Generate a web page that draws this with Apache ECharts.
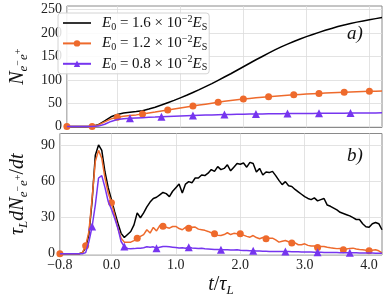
<!DOCTYPE html>
<html><head><meta charset="utf-8">
<script src="https://cdn.jsdelivr.net/npm/echarts@6/dist/echarts.min.js"></script>
<style>html,body{margin:0;padding:0;background:#fff}#c{width:388px;height:299px}</style>
</head><body><div id="c"></div>
<script>
// ---------- data ----------
const seriesNames = ['E16', 'E12', 'E08'];
const fieldValues = ['1.6', '1.2', '0.8'];
const xTicks = [-0.8, 0, 1, 2, 3, 4];
const yTicksTop = [0, 50, 100, 150, 200, 250];
const yTicksRate = [0, 30, 60, 90];

// cumulative pair number (panel a)
const tTop = [-0.8,-0.7,-0.6,-0.5,-0.4,-0.3,-0.2,-0.1,0,0.1,
  0.2,0.3,0.4,0.5,0.6,0.7,0.8,0.9,1,1.1,
  1.2,1.3,1.4,1.5,1.6,1.7,1.8,1.9,2,2.1,
  2.2,2.3,2.4,2.5,2.6,2.7,2.8,2.9,3,3.1,
  3.2,3.3,3.4,3.5,3.6,3.7,3.8,3.9,4,4.1,4.2];
const nBlack = [0,0,0,0,0.5,4,12,21,26,29,
  30.5,32,34,37.5,41.5,46,51,56,61.5,67,
  73,79,85.5,92,99,106,113,120.5,128,135.5,
  143,150,157,164,170.5,176.5,182,187.5,192.5,197,
  201.5,206,210,214,217.5,220.5,223.5,226,228.5,231,233.5];
const nOrange = [0,0,0,0,0.3,3.5,10,16.5,20,22,
  23.5,25,27,29,31,33.2,35.4,37.6,39.8,42,
  44,46,48,50,52,54,55.8,57.5,59,60.3,
  61.6,62.8,64,65,66,67,68,68.8,69.6,70.3,
  71,71.6,72.2,72.8,73.4,74,74.5,75,75.5,75.8,76];
const nPurple = [0,0,0,0,0,1,5,11,15,16.8,
  17.6,18.3,19,19.7,20.3,21,21.6,22.2,22.8,23.3,
  23.8,24.2,24.6,25,25.3,25.6,25.9,26.2,26.5,26.7,
  26.9,27.1,27.3,27.5,27.6,27.8,27.9,28,28.1,28.2,
  28.3,28.4,28.5,28.6,28.7,28.8,28.9,29,29.1,29.2,29.3];

// production rate (panel b)
const tRate = [-0.8,-0.75,-0.7,-0.65,-0.6,-0.55,-0.5,-0.45,-0.4,-0.35,
  -0.3,-0.25,-0.2,-0.15,-0.1,-0.05,0,0.05,0.1,0.15,
  0.2,0.25,0.3,0.35,0.4,0.45,0.5,0.55,0.6,0.65,
  0.7,0.75,0.8,0.85,0.9,0.95,1,1.05,1.1,1.15,
  1.2,1.25,1.3,1.35,1.4,1.45,1.5,1.55,1.6,1.65,
  1.7,1.75,1.8,1.85,1.9,1.95,2,2.05,2.1,2.15,
  2.2,2.25,2.3,2.35,2.4,2.45,2.5,2.55,2.6,2.65,
  2.7,2.75,2.8,2.85,2.9,2.95,3,3.05,3.1,3.15,
  3.2,3.25,3.3,3.35,3.4,3.45,3.5,3.55,3.6,3.65,
  3.7,3.75,3.8,3.85,3.9,3.95,4,4.05,4.1,4.15,4.2];
const rBlack = [0,0,0,0,0,0,0,1,5,16,
  44,82,90.5,86,68,55,45,35,25.5,17,
  13.5,16,18.5,24,34,30,34,39,43,46,
  47,49,51,50,47.5,52,55,58,50.5,58,
  60,59,63,63,65.5,65,67,70,68.5,72.5,
  70,71,74,69,72,75,74.5,75.5,72,76,
  75,68,71,65.5,68,67.5,68.5,65,61,57.5,
  60,56.5,56,53.5,51.5,49.5,47.5,46,45,46.5,
  44,45,46,40.5,39.5,38,36.5,34.5,33.5,32.5,
  31.5,30,28.5,28.5,25,22.5,22,25,26,25,20];
const rOrange = [0,0,0,0,0,0,0,1,6.6,18.5,
  46,77,86,79.5,63,50.5,42.5,32,21.5,13,
  9.7,9.5,9.7,11,13,14.5,16,20,17.2,21.9,
  19,23.5,23,22,21.3,22.7,22.7,21,20,22,
  21.3,22,22.2,20.5,20,19.5,18.6,17.5,16.6,15.5,
  15.2,16,17.5,16,17,16.6,16.6,15.5,14.5,13.8,
  15.2,13.5,12.5,13.5,12.5,13,13,11.5,9.7,10.5,
  11.1,10,8.9,9,7.5,7.5,8.3,7,6.5,6.5,
  5.3,6,6.1,5.5,5,4.7,4.3,4.5,3.3,4,
  4.5,4.7,4,3.5,3.3,3,2.5,3,3.3,2.5,0.8];
const rPurple = [0,0,0,0,0,0,0,0,1,10,
  22.7,40.7,63,65,55,43.5,37,29.5,21.3,10.2,
  6,4.5,4.2,4.3,4.6,4.7,5,5.8,5.5,5.8,
  4.7,5.5,6.1,6,5.8,5.5,5.2,4.8,5,4.6,
  5.5,4.8,4.7,4.5,4.6,4.2,4,3.8,3.6,3.5,
  3.3,3.3,3.4,3.2,3.1,3.3,3,2.8,2.7,2.6,
  2.5,2.4,2.3,2.2,2.1,2,2,2,2,1.9,
  2,1.9,1.8,1.7,1.6,1.5,1.5,1.4,1.4,1.3,
  1.2,1.2,1.1,1.1,1,1,1,0.9,0.9,0.9,
  0.8,0.8,0.8,0.7,0.7,0.6,0.6,0.6,0.5,0.5,0.5];

// marker positions (times carrying a marker)
const orangeMarkT = [-0.8,-0.4,0,0.4,0.8,1.2,1.6,2,2.4,2.8,3.2,3.6,4];
const purpleMarkTopT = [0.2,0.7,1.2,1.7,2.2,2.7,3.2,3.7];
const purpleMarkRateT = [-0.3,0.2,0.7,1.2,1.7,2.2,2.7,3.2,3.7];

// ---------- build ----------
const SERIF = '"Liberation Serif", "DejaVu Serif", serif';
const COL = ['#000000', '#ee6a2c', '#7635ef'];
function pts(ts, ys, marks) {
  return ts.map((t, i) => {
    const isMark = marks && marks.some(m => Math.abs(m - t) < 1e-6);
    return marks ? { value: [t, ys[i]], symbol: isMark ? undefined : 'none' } : [t, ys[i]];
  });
}
function line(name, idx, data, sym, size) {
  return {
    type: 'line', name: name, xAxisIndex: idx, yAxisIndex: idx, data: data,
    symbol: sym || 'none', symbolSize: size || 7, showAllSymbol: true, clip: true,
    lineStyle: { color: COL[seriesNames.indexOf(name)], width: 1.5 },
    itemStyle: { color: COL[seriesNames.indexOf(name)] },
    emphasis: { disabled: true }, animation: false, z: 2 + seriesNames.indexOf(name)
  };
}
function fmtX(v) { return (v < 0 ? '\u2212' : '') + Math.abs(v).toFixed(1); }
const gridLine = { show: true, lineStyle: { color: '#dcdcdc', width: 0.8 } };
const tickLbl = { fontFamily: SERIF, fontSize: 14, color: '#222' };
const nameRich = {
  m: { fontFamily: SERIF, fontStyle: 'italic', fontSize: 20, lineHeight: 24, color: '#111' },
  n: { fontFamily: SERIF, fontSize: 20, lineHeight: 24, color: '#111' },
  s: { fontFamily: SERIF, fontStyle: 'italic', fontSize: 13, lineHeight: 10, verticalAlign: 'bottom', color: '#111' },
  p: { fontFamily: SERIF, fontSize: 10, lineHeight: 24, color: '#111' }
};

const option = {
  animation: false,
  backgroundColor: '#fff',
  grid: [
    { left: 52, right: 6, top: 6, height: 121.5, show: true, borderColor: '#8a8a8a', borderWidth: 1, backgroundColor: 'transparent' },
    { left: 52, right: 6, top: 133.5, height: 121.5, show: true, borderColor: '#8a8a8a', borderWidth: 1, backgroundColor: 'transparent' }
  ],
  xAxis: [
    { type: 'value', gridIndex: 0, min: -0.8, max: 4.2,
      axisLine: { show: false }, axisTick: { show: false, customValues: xTicks },
      axisLabel: { show: false, customValues: xTicks }, splitLine: gridLine },
    { type: 'value', gridIndex: 1, min: -0.8, max: 4.2,
      axisLine: { show: false }, axisTick: { show: false, customValues: xTicks },
      axisLabel: Object.assign({ customValues: xTicks, formatter: fmtX, margin: 3 }, tickLbl),
      splitLine: gridLine,
      name: '{m|t}{n|/}{m|\u03c4}{s|L}', nameLocation: 'middle', nameGap: 18,
      nameTextStyle: { rich: nameRich } }
  ],
  yAxis: [
    { type: 'value', gridIndex: 0, min: -2, max: 258,
      axisLine: { show: false }, axisTick: { show: false, customValues: yTicksTop },
      axisLabel: Object.assign({ customValues: yTicksTop, margin: 5 }, tickLbl), splitLine: gridLine,
      name: '{m|N}{s|e}{p|\u2212}{s|e}{p|+}', nameLocation: 'middle', nameRotate: 90, nameGap: 30,
      nameTextStyle: { rich: nameRich } },
    { type: 'value', gridIndex: 1, min: -1, max: 100,
      axisLine: { show: false }, axisTick: { show: false, customValues: yTicksRate },
      axisLabel: Object.assign({ customValues: yTicksRate, margin: 5 }, tickLbl), splitLine: gridLine,
      name: '{m|\u03c4}{s|L}{m|dN}{s|e}{p|\u2212}{s|e}{p|+}{n|/}{m|dt}', nameLocation: 'middle', nameRotate: 90, nameGap: 27,
      nameTextStyle: { rich: nameRich } }
  ],
  legend: {
    left: 58, top: 13, orient: 'vertical',
    data: [{ name: seriesNames[0], icon: 'path://M0,0H28V1.6H0Z' }, seriesNames[1], seriesNames[2]],
    itemWidth: 28, itemHeight: 8, itemGap: 2.4, padding: [1, 2, 1, 4],
    backgroundColor: 'rgba(255,255,255,0.85)', borderColor: '#d4d4d4', borderWidth: 1, borderRadius: 3,
    selectedMode: false,
    formatter: n => '{e0|E}{s|0}{t| = ' + fieldValues[seriesNames.indexOf(n)] + ' \u00d7 10}{p|\u22122}{e|E}{s|S}',
    textStyle: { lineHeight: 18, rich: {
      e0: { fontFamily: SERIF, fontStyle: 'italic', fontSize: 15, lineHeight: 18, padding: [0, 0, 0, 6], color: '#111' },
      e: { fontFamily: SERIF, fontStyle: 'italic', fontSize: 15, lineHeight: 18, color: '#111' },
      t: { fontFamily: SERIF, fontSize: 15, lineHeight: 18, color: '#111' },
      s: { fontFamily: SERIF, fontSize: 10, lineHeight: 7, verticalAlign: 'bottom', color: '#111' },
      p: { fontFamily: SERIF, fontSize: 10, lineHeight: 9, verticalAlign: 'top', color: '#111' } } }
  },
  graphic: [
    { type: 'text', x: 355, y: 34, z: 50, style: { text: 'a)', font: 'italic 19px ' + SERIF, fill: '#111', align: 'center', verticalAlign: 'middle' } },
    { type: 'text', x: 355, y: 156, z: 50, style: { text: 'b)', font: 'italic 19px ' + SERIF, fill: '#111', align: 'center', verticalAlign: 'middle' } }
  ],
  series: [
    line('E16', 0, pts(tTop, nBlack)),
    line('E12', 0, pts(tTop, nOrange, orangeMarkT), 'circle', 7),
    line('E08', 0, pts(tTop, nPurple, purpleMarkTopT), 'triangle', 8),
    line('E16', 1, pts(tRate, rBlack)),
    line('E12', 1, pts(tRate, rOrange, orangeMarkT), 'circle', 7),
    line('E08', 1, pts(tRate, rPurple, purpleMarkRateT), 'triangle', 8)
  ]
};
const chart = echarts.init(document.getElementById('c'), null, { renderer: 'canvas' });
chart.setOption(option);
</script></body></html>
